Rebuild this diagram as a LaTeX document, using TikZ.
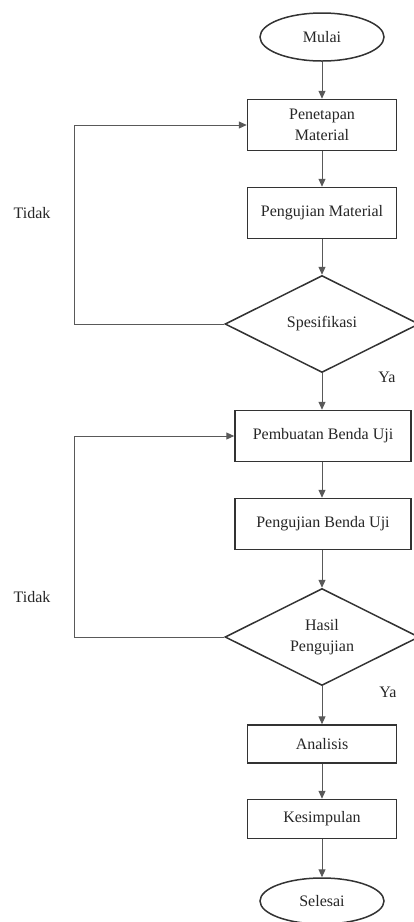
\documentclass[tikz,border=0pt]{standalone}
\usepackage{fontspec}
\setmainfont{Liberation Serif}
\usetikzlibrary{shapes.geometric,arrows.meta}
\begin{document}
\begin{tikzpicture}[
    x=1pt, y=-1pt,
    every node/.style={font=\fontsize{16}{21}\selectfont, text=black!85},
    proses/.style={draw=black!80, line width=1.5pt, minimum width=149pt,
        minimum height=51pt, inner sep=0pt, align=center},
    keputusan/.style={draw=black!80, line width=1.5pt, diamond, aspect=2,
        minimum width=194pt, minimum height=97pt, inner sep=0pt, align=center},
    terminal/.style={draw=black!80, line width=1.5pt, ellipse,
        minimum width=124pt, minimum height=48pt, inner sep=0pt},
    alur/.style={draw=black!65, line width=1pt, -{Triangle[length=8pt,width=7pt]}}]
    \useasboundingbox (0,0) rectangle (413,922);

    \node[terminal] (mulai) at (322,37) {Mulai};
    \node[proses] (tetap) at (322,125) {Penetapan\\Material};
    \node[proses] (ujimat) at (322,213) {Pengujian Material};
    \node[keputusan] (spek) at (322,324) {Spesifikasi};
    \node[proses,minimum width=176pt] (buat) at (323,436) {Pembuatan Benda Uji};
    \node[proses,minimum width=176pt] (ujibenda) at (323,524) {Pengujian Benda Uji};
    \node[keputusan] (hasil) at (322,637) {Hasil\\Pengujian};
    \node[proses,minimum height=38pt] (analisis) at (322,744) {Analisis};
    \node[proses,minimum height=39pt] (simpul) at (322,819) {Kesimpulan};
    \node[terminal,minimum height=46pt] (selesai) at (322,901) {Selesai};

    \coordinate (lajur) at (74,0);
    \node (tidak1) at (32,213) {Tidak};
    \node (tidak2) at (32,597) {Tidak};
    \node (ya1) at (387,377) {Ya};
    \node (ya2) at (388,692) {Ya};

    \draw[alur] (mulai) -- (tetap);
    \draw[alur] (tetap) -- (ujimat);
    \draw[alur] (ujimat) -- (spek);
    \draw[alur] (spek) -- (spek.south |- buat.north);
    \draw[alur] (buat.south -| spek.south) -- (ujibenda.north -| spek.south);
    \draw[alur] (ujibenda.south -| spek.south) -- (hasil);
    \draw[alur] (hasil) -- (analisis);
    \draw[alur] (analisis) -- (simpul);
    \draw[alur] (simpul) -- (selesai);
    \draw[alur] (spek.west) -- (spek.west -| lajur) |- (tetap.west);
    \draw[alur] (hasil.west) -- (hasil.west -| lajur) |- (buat.west);
\end{tikzpicture}
\end{document}
